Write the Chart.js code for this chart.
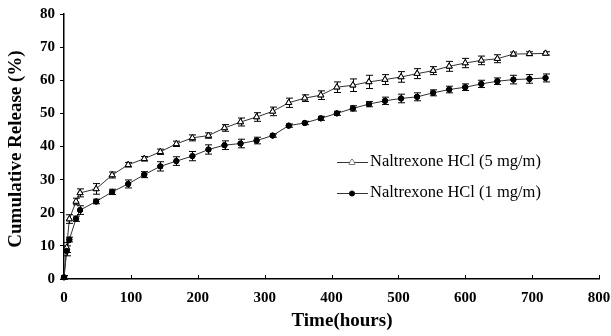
<!DOCTYPE html>
<html>
<head>
<meta charset="utf-8">
<script src="https://cdn.jsdelivr.net/npm/chart.js@4"></script>
<style>
  html, body { margin: 0; padding: 0; background: #fff; }
  canvas { display: block; }
</style>
</head>
<body>
<canvas id="releaseChart" width="611" height="336"></canvas>
<script>
// data
const hours = [0, 4, 8, 18, 24, 48, 72, 96, 120, 144, 168, 192, 216, 240, 264, 288, 312, 336,
  360, 384, 408, 432, 456, 480, 504, 528, 552, 576, 600, 624, 648, 672, 696, 720];

const release5 = [0.5, 9.5, 18.1, 23.4, 26.0, 27.2, 31.4, 34.5, 36.3, 38.4, 40.8, 42.6, 43.3, 45.6,
  47.4, 48.9, 50.6, 53.2, 54.6, 55.5, 57.9, 58.5, 59.5, 60.2, 61.0, 62.0, 62.9, 64.2, 65.2, 66.0,
  66.5, 67.9, 68.0, 68.1];
const err5 = [0.5, 1.5, 1.3, 1.0, 1.2, 1.6, 0.9, 0.7, 0.7, 0.8, 0.8, 0.9, 0.8, 1.0, 1.2, 1.3, 1.3,
  1.4, 1.0, 1.3, 1.6, 1.9, 2.0, 1.5, 1.6, 1.5, 1.2, 1.5, 1.4, 1.3, 1.2, 0.6, 0.6, 0.5];

const release1 = [0.5, 8.5, 11.9, 18.2, 20.8, 23.4, 26.3, 28.7, 31.5, 34.0, 35.6, 37.1, 39.1, 40.4,
  40.9, 41.8, 43.3, 46.3, 47.1, 48.5, 50.0, 51.5, 52.8, 53.8, 54.5, 55.0, 56.2, 57.2, 57.9, 58.9,
  59.7, 60.2, 60.4, 60.7];
const err1 = [0.5, 1.5, 0.7, 0.8, 1.3, 0.7, 0.8, 1.2, 0.9, 1.4, 1.3, 1.4, 1.4, 1.3, 1.3, 1.0, 0.5,
  0.5, 0.5, 0.6, 0.6, 0.8, 0.8, 1.1, 1.3, 1.2, 0.9, 1.0, 1.0, 1.1, 1.0, 1.3, 1.3, 1.2];

const seriesLabels = ['Naltrexone HCl (5 mg/m)', 'Naltrexone HCl (1 mg/m)'];
const xTicks = [0, 100, 200, 300, 400, 500, 600, 700, 800];
const yTicks = [0, 10, 20, 30, 40, 50, 60, 70, 80];

const serif = "'Liberation Serif', 'Times New Roman', serif";

function toPoints(ys) {
  return hours.map((h, i) => ({ x: h, y: ys[i] }));
}

// error bars, markers redrawn over them
const errorBars = {
  id: 'errorBars',
  afterDatasetsDraw(chart) {
    const ctx = chart.ctx;
    const xs = chart.scales.x, ys = chart.scales.y;
    const errs = [err5, err1];
    ctx.save();
    ctx.strokeStyle = '#000';
    ctx.lineWidth = 1;
    chart.data.datasets.forEach((ds, d) => {
      ds.data.forEach((p, i) => {
        const px = Math.round(xs.getPixelForValue(p.x)) + 0.5;
        const top = ys.getPixelForValue(p.y + errs[d][i]);
        const bot = ys.getPixelForValue(p.y - errs[d][i]);
        ctx.beginPath();
        ctx.moveTo(px, top); ctx.lineTo(px, bot);
        ctx.moveTo(px - 3.5, top); ctx.lineTo(px + 3.5, top);
        ctx.moveTo(px - 3.5, bot); ctx.lineTo(px + 3.5, bot);
        ctx.stroke();
      });
    });
    chart.data.datasets.forEach((ds, d) => {
      chart.getDatasetMeta(d).data.forEach(el => el.draw(ctx));
    });
    ctx.restore();
  }
};

// inward x ticks, axis titles and legend
const decorations = {
  id: 'decorations',
  afterDraw(chart) {
    const ctx = chart.ctx;
    const xs = chart.scales.x;
    const area = chart.chartArea;
    ctx.save();
    ctx.strokeStyle = '#000';
    ctx.lineWidth = 1;
    xTicks.forEach(v => {
      const px = Math.round(xs.getPixelForValue(v)) + 0.5;
      ctx.beginPath();
      ctx.moveTo(px, area.bottom);
      ctx.lineTo(px, area.bottom - 4);
      ctx.stroke();
    });

    ctx.fillStyle = '#000';
    ctx.font = 'bold 19px ' + serif;
    ctx.textAlign = 'center';
    ctx.textBaseline = 'middle';
    ctx.fillText('Time(hours)', 342, 321);
    ctx.save();
    ctx.translate(16, 149);
    ctx.rotate(-Math.PI / 2);
    ctx.fillText('Cumulative Release (%)', 0, 0);
    ctx.restore();

    // legend
    const rows = [162, 193];
    ctx.font = '16.5px ' + serif;
    ctx.textAlign = 'left';
    rows.forEach((y, d) => {
      ctx.strokeStyle = '#333';
      ctx.beginPath();
      ctx.moveTo(337, y + 0.5);
      ctx.lineTo(368, y + 0.5);
      ctx.stroke();
      const ds = chart.data.datasets[d];
      Chart.helpers.drawPoint(ctx, {
        pointStyle: ds.pointStyle,
        radius: ds.pointRadius,
        borderWidth: ds.pointBorderWidth
      }, 352, y + 0.5);
      ctx.fillStyle = ds.pointBackgroundColor;
      ctx.strokeStyle = ds.pointBorderColor;
      ctx.fill();
      ctx.fillStyle = '#000';
      ctx.fillText(seriesLabels[d], 370, y);
    });
    ctx.restore();
  }
};

const releaseChartConfig = {
  type: 'line',
  data: {
    datasets: [{
      label: seriesLabels[0],
      data: toPoints(release5),
      borderColor: '#333',
      borderWidth: 1,
      pointStyle: 'triangle',
      pointRadius: 3.5,
      pointBackgroundColor: '#fff',
      pointBorderColor: '#000',
      pointBorderWidth: 1,
      clip: false
    }, {
      label: seriesLabels[1],
      data: toPoints(release1),
      borderColor: '#333',
      borderWidth: 1,
      pointStyle: 'circle',
      pointRadius: 2.6,
      pointBackgroundColor: '#000',
      pointBorderColor: '#000',
      pointBorderWidth: 1,
      clip: false
    }]
  },
  options: {
    responsive: false,
    animation: false,
    layout: { padding: { top: 14, right: 12, left: 0, bottom: 0 } },
    plugins: {
      legend: { display: false },
      tooltip: { enabled: false }
    },
    scales: {
      x: {
        type: 'linear',
        min: 0,
        max: 800,
        afterFit(scale) {
          scale.height = 57;
          scale.paddingLeft = 0;
          scale.paddingRight = 0;
        },
        afterBuildTicks(scale) { scale.ticks = xTicks.map(v => ({ value: v })); },
        border: { color: '#000', width: 1.5 },
        grid: { display: true, drawOnChartArea: false, drawTicks: false },
        ticks: {
          color: '#000',
          padding: 10,
          maxRotation: 0,
          font: { family: serif, size: 15, weight: 'bold' }
        }
      },
      y: {
        min: 0,
        max: 80,
        afterFit(scale) {
          scale.width = 64;
          scale.paddingTop = 0;
          scale.paddingBottom = 0;
        },
        afterBuildTicks(scale) { scale.ticks = yTicks.map(v => ({ value: v })); },
        border: { color: '#000', width: 1.5 },
        grid: { drawOnChartArea: false, drawTicks: true, tickLength: 4, color: '#000' },
        ticks: {
          color: '#000',
          padding: 5,
          font: { family: serif, size: 15, weight: 'bold' }
        }
      }
    }
  },
  plugins: [errorBars, decorations]
};

const releaseChartCanvas = document.getElementById('releaseChart');
const releaseChart = new Chart(releaseChartCanvas, releaseChartConfig);
</script>
</body>
</html>
